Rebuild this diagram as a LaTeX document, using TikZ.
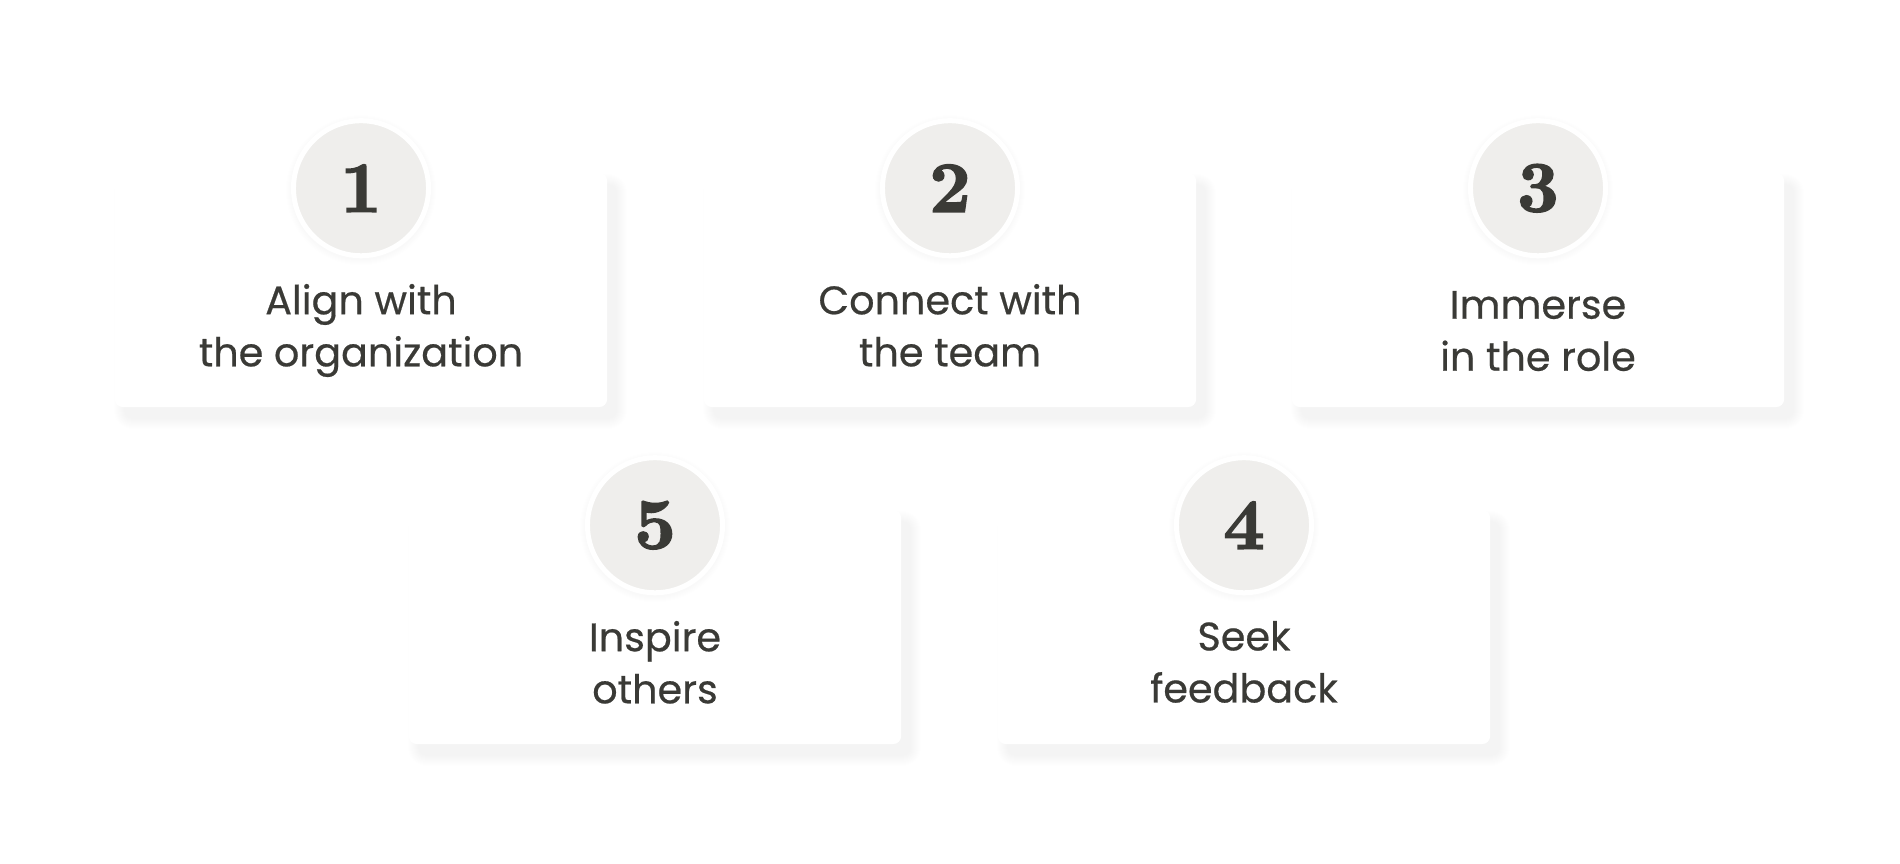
\documentclass[tikz,border=0pt]{standalone}
\usepackage{fontspec}
\newfontfamily\cardfont[FakeBold=0.5]{Poppins}
\newfontfamily\numfont[FakeBold=2.2]{lmroman10-bold.otf}
\usetikzlibrary{positioning,backgrounds}
\definecolor{ink}{HTML}{3A3A36}
\definecolor{disc fill}{HTML}{EFEEEC}
\tikzset{card/.style={fill=white, rounded corners=0.08cm, minimum width=4.92cm, minimum height=2.34cm, inner sep=0pt},
	badge/.style={circle, fill=disc fill, draw=white, line width=0.05cm, minimum size=1.35cm, inner sep=0pt, text=ink, font=\numfont\fontsize{20.5}{21}\selectfont},
	caption/.style={align=center, text=ink, font=\cardfont\fontsize{11.3}{14.8}\selectfont, inner sep=0pt}}
\def\cardshadow#1{\foreach \k in {0,...,10}{
	\pgfmathsetmacro\rr{0.08+0.01*\k}
	\fill[black, opacity=0.0042, rounded corners=\rr cm] ([shift={(10-\k,12-\k)}]#1.north west) rectangle ([shift={(9+\k,11+\k)}]#1.south east);}}
\def\badgeglow#1{\foreach \k in {1,...,6}
	\fill[black, opacity=0.004] ([yshift=-0.02cm]#1) circle ({0.69cm+\k*0.01cm});}

\begin{document}
\begin{tikzpicture}[x=0.01cm, y=-0.01cm]
		\useasboundingbox (0,0) rectangle (1900,864);
		\node[card] (card1) at (361,290) {};
		\node[card] (card2) at (950,290) {};
		\node[card] (card3) at (1538,290) {};
		\node[card] (card5) at (655,627) {};
		\node[card] (card4) at (1244,627) {};
		
		\coordinate[below=0.16cm of card1.north] (b1);
		\coordinate[below=0.16cm of card2.north] (b2);
		\coordinate[below=0.16cm of card3.north] (b3);
		\coordinate[below=0.16cm of card5.north] (b5);
		\coordinate[below=0.16cm of card4.north] (b4);
		\badgeglow{b1} \badgeglow{b2} \badgeglow{b3} \badgeglow{b5} \badgeglow{b4}
		
		\node[badge] (n1) at (b1) {1};
		\node[badge] (n2) at (b2) {2};
		\node[badge] (n3) at (b3) {3};
		\node[badge] (n5) at (b5) {5};
		\node[badge] (n4) at (b4) {4};
		
		\node[caption, below=0.25cm of n1] (t1) {Align with\\the organization};
		\node[caption, below=0.25cm of n2] (t2) {Connect with\\the team};
		\node[caption, below=0.32cm of n3] (t3) {Immerse\\in the role};
		\node[caption, below=0.25cm of n5] (t5) {Inspire\\others};
		\node[caption, below=0.25cm of n4] (t4) {Seek\\feedback};
		
		\begin{scope}[on background layer]
			\fill[white] (0,0) rectangle (1900,864);
			\cardshadow{card1} \cardshadow{card2} \cardshadow{card3}
			\cardshadow{card5} \cardshadow{card4}
		\end{scope}
\end{tikzpicture}
\end{document}
